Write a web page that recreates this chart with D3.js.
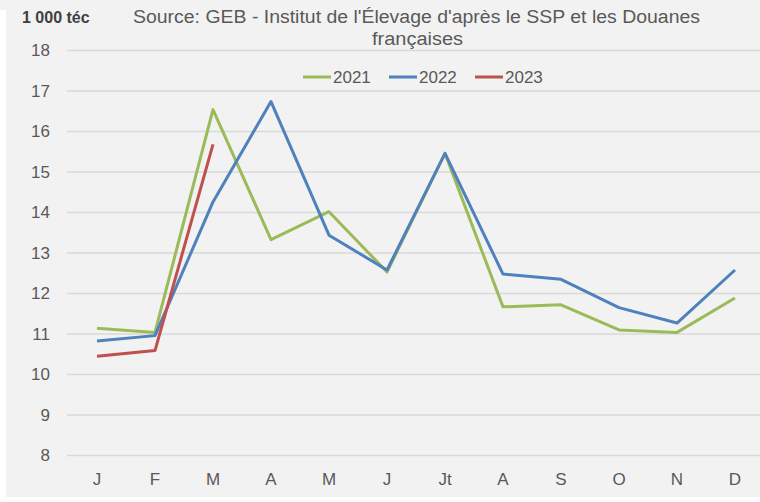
<!DOCTYPE html>
<html>
<head>
<meta charset="utf-8">
<script src="https://cdn.jsdelivr.net/npm/d3@7"></script>
<style>
  body { margin: 0; background: #fff; }
  svg { display: block; font-family: "Liberation Sans", Arial, sans-serif; }
</style>
</head>
<body>
<div id="chart"></div>
<script>
const months = ["J", "F", "M", "A", "M", "J", "Jt", "A", "S", "O", "N", "D"];
const v2021 = [11.14, 11.04, 16.54, 13.33, 14.02, 12.53, 15.46, 11.67, 11.72, 11.10, 11.04, 11.89];
const v2022 = [10.83, 10.96, 14.26, 16.74, 13.44, 12.58, 15.46, 12.48, 12.35, 11.65, 11.27, 12.58];
const v2023 = [10.45, 10.59, 15.68];
const yTicks = [8, 9, 10, 11, 12, 13, 14, 15, 16, 17, 18];

const series = [
  {name: "2021", values: v2021, color: "#9bbb59"},
  {name: "2022", values: v2022, color: "#4f81bd"},
  {name: "2023", values: v2023, color: "#c0504d"}
];

const W = 760, H = 502;

const svg = d3.select("#chart")
    .append("svg")
    .attr("width", W)
    .attr("height", H);

// panel background
svg.append("rect").attr("x", 0).attr("y", 0).attr("width", W).attr("height", 497).attr("fill", "#f2f2f2");
svg.append("rect").attr("x", 0).attr("y", 10).attr("width", 6).attr("height", H).attr("fill", "#fff");

// X axis (band scale, points at centres)
var x = d3.scaleBand()
    .domain(d3.range(months.length))
    .range([68, 764]);

// Y axis
var y = d3.scaleLinear()
    .domain([8, 18])
    .range([455.5, 50.5]);

// gridlines
svg.append("g")
    .selectAll("line")
    .data(yTicks)
    .enter()
    .append("line")
    .attr("x1", 67)
    .attr("x2", W)
    .attr("y1", d => y(d))
    .attr("y2", d => y(d))
    .attr("stroke", "#d9d9d9")
    .attr("stroke-width", 1.5);

const yAxis = svg.append("g")
    .attr("transform", "translate(50,0)")
    .call(d3.axisLeft(y).tickValues(yTicks).tickSize(0).tickPadding(0));
yAxis.select(".domain").remove();
yAxis.selectAll("text")
    .attr("fill", "#595959")
    .style("font-size", "17px");

const xAxis = svg.append("g")
    .attr("transform", "translate(0,473)")
    .call(d3.axisBottom(x).tickFormat(i => months[i]).tickSize(0).tickPadding(0));
xAxis.select(".domain").remove();
xAxis.selectAll("text")
    .attr("fill", "#595959")
    .attr("dy", "0.71em")
    .style("font-size", "17px");

// lines
const line = d3.line()
    .x((d, i) => x(i) + x.bandwidth() / 2)
    .y(d => y(d));

svg.selectAll("path.series")
    .data(series)
    .enter()
    .append("path")
    .attr("class", "series")
    .attr("d", d => line(d.values))
    .attr("fill", "none")
    .attr("stroke", d => d.color)
    .attr("stroke-width", 3)
    .attr("stroke-linejoin", "round");

// unit label and title
svg.append("text")
    .attr("x", 22).attr("y", 23)
    .attr("fill", "#404040")
    .style("font-size", "16px")
    .style("font-weight", "bold")
    .text("1 000 téc");

svg.append("text")
    .attr("x", 133).attr("y", 23)
    .attr("fill", "#595959")
    .attr("textLength", 567)
    .attr("lengthAdjust", "spacingAndGlyphs")
    .style("font-size", "18px")
    .text("Source: GEB - Institut de l'Élevage d'après le SSP et les Douanes");
svg.append("text")
    .attr("x", 372).attr("y", 45)
    .attr("fill", "#595959")
    .attr("textLength", 91)
    .attr("lengthAdjust", "spacingAndGlyphs")
    .style("font-size", "18px")
    .text("françaises");

// legend
const legendX = [303, 389, 475];
const legend = svg.selectAll("g.legend")
    .data(series)
    .enter()
    .append("g")
    .attr("class", "legend")
    .attr("transform", (d, i) => "translate(" + legendX[i] + ",77)");
legend.append("line")
    .attr("x1", 0).attr("x2", 28)
    .attr("stroke", d => d.color)
    .attr("stroke-width", 3);
legend.append("text")
    .attr("x", 30).attr("y", 0)
    .attr("dy", "0.35em")
    .attr("fill", "#595959")
    .style("font-size", "17px")
    .text(d => d.name);
</script>
</body>
</html>
